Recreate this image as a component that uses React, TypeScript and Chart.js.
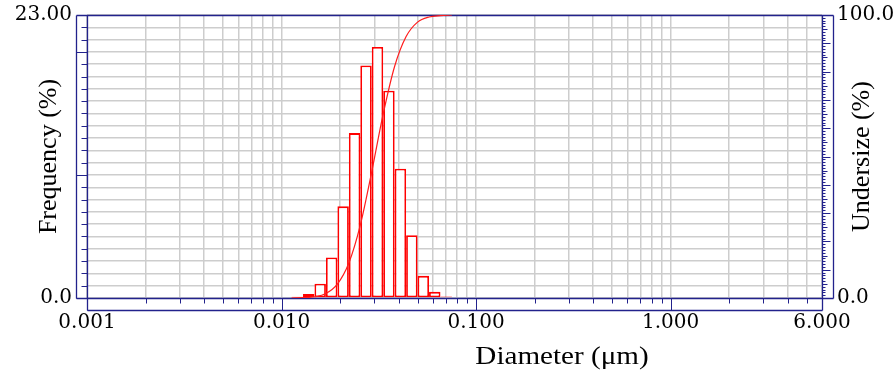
import React, { useEffect, useRef } from 'react';
import { Chart, registerables } from 'chart.js';

Chart.register(...registerables);

// Histogram bins (geometric bin centres, µm) and frequency (%)
const binCenters = [0.01205, 0.0138, 0.0158, 0.0181, 0.02073, 0.02374, 0.02718, 0.03113, 0.03565, 0.04083, 0.04675, 0.05354, 0.06132, 0.07022];
const frequency = [0.1, 0.33, 1.16, 3.3, 7.45, 13.4, 18.9, 20.4, 16.85, 10.5, 5.1, 1.8, 0.5, 0.13];

// Cumulative undersize curve (%), at bin edges (µm)
const binEdges = [0.01126, 0.0129, 0.01477, 0.01691, 0.01937, 0.02218, 0.0254, 0.02909, 0.03331, 0.03815, 0.04369, 0.05003, 0.0573, 0.06562, 0.07515];
const undersize = [0, 0.1, 0.43, 1.59, 4.89, 12.34, 25.74, 44.64, 65.04, 81.89, 92.39, 97.49, 99.29, 99.79, 100];

// Axes
const xLabelTicks = [0.001, 0.01, 0.1, 1, 6];
const xGridMultipliers = [1, 2, 3, 4, 5, 6, 7, 8, 9];
const freqMax = 23;
const undersizeMax = 100;

const NAVY = '#22228c';
const GRID = '#cdcdcd';
const TICK_FONT = { family: 'DejaVu Serif', size: 20 };
const TITLE_FAMILY = '"Liberation Serif", "Times New Roman", serif';

export default function App() {
  const ref = useRef<HTMLCanvasElement>(null);

  useEffect(() => {
    const canvas = ref.current!;
    const gridTicks: number[] = [];
    for (let e = -3; e <= 0; e++) {
      for (const m of xGridMultipliers) {
        const v = parseFloat((m * Math.pow(10, e)).toPrecision(6));
        if (v <= 6) gridTicks.push(v);
      }
    }
    const isLabel = (v: number) => xLabelTicks.some((t) => Math.abs(t - v) < 1e-9);
    const isDecade = (v: number) => Math.abs(Math.log10(v) - Math.round(Math.log10(v))) < 1e-9;
    const noPad = (s: any) => {
      s.paddingTop = 0;
      s.paddingBottom = 0;
      s.paddingLeft = 0;
      s.paddingRight = 0;
    };

    const framePlugin = {
      id: 'frame',
      beforeDatasetsDraw(chart: any) {
        const { ctx, chartArea: a, scales } = chart;
        const c = (v: number) => Math.round(v) + 0.5;
        const L = a.left, R = a.right, T = a.top, B = a.bottom;
        const side = 11, bot = 12;
        ctx.save();
        ctx.strokeStyle = NAVY;
        ctx.lineWidth = 1.3;
        const line = (x1: number, y1: number, x2: number, y2: number) => {
          ctx.beginPath();
          ctx.moveTo(x1, y1);
          ctx.lineTo(x2, y2);
          ctx.stroke();
        };
        // outer frame
        line(c(L - side), c(T), c(R + side), c(T));
        line(c(L - side), c(B), c(R + side), c(B));
        line(c(L - side), c(T), c(L - side), c(B));
        line(c(L), c(T), c(L), c(B + bot));
        line(c(R), c(T), c(R), c(B + bot));
        line(c(R + side), c(T), c(R + side), c(B));
        line(c(L), c(B + bot), c(R), c(B + bot));
        ctx.lineWidth = 1;
        // left axis ticks
        for (let v = 0; v <= freqMax; v++) {
          const py = c(scales.y.getPixelForValue(v));
          line(v % 10 === 0 ? c(L - side) : c(L - 6), py, c(L), py);
        }
        // right axis ticks
        for (let v = 0; v <= undersizeMax; v++) {
          const py = c(scales.y1.getPixelForValue(v));
          const len = v % 10 === 0 ? 8 : v % 5 === 0 ? 5 : 3;
          line(c(R), py, c(R + len), py);
        }
        // bottom axis ticks
        for (const t of scales.x.ticks) {
          const px = c(scales.x.getPixelForValue(t.value));
          line(px, c(B), px, isDecade(t.value) ? c(B + bot) : c(B + 5));
        }
        ctx.restore();
      },
      afterDraw(chart: any) {
        const { ctx, chartArea: a } = chart;
        ctx.save();
        ctx.fillStyle = '#000';
        ctx.font = `26px ${TITLE_FAMILY}`;
        // x-axis title
        ctx.save();
        ctx.translate(562, 364);
        ctx.scale(1.12, 1);
        ctx.textAlign = 'center';
        ctx.textBaseline = 'alphabetic';
        ctx.fillText('Diameter (μm)', 0, 0);
        ctx.restore();
        // right axis title
        ctx.save();
        ctx.translate(862, (a.top + a.bottom) / 2);
        ctx.rotate(-Math.PI / 2);
        ctx.textAlign = 'center';
        ctx.textBaseline = 'middle';
        ctx.fillText('Undersize (%)', 0, 0);
        ctx.restore();
        ctx.restore();
      },
    };

    const chart = new Chart(canvas, {
      type: 'bar',
      data: {
        datasets: [
          {
            type: 'line',
            label: 'Undersize',
            data: binEdges.map((x, i) => ({ x, y: undersize[i] })),
            xAxisID: 'x',
            yAxisID: 'y1',
            borderColor: '#ff1c1c',
            borderWidth: 1.2,
            pointRadius: 0,
            cubicInterpolationMode: 'monotone',
            fill: false,
          } as any,
          {
            type: 'bar',
            label: 'Frequency',
            data: binCenters.map((x, i) => ({ x, y: frequency[i] })),
            xAxisID: 'x',
            yAxisID: 'y',
            backgroundColor: '#ffffff',
            borderColor: '#ff0000',
            borderWidth: 1.8,
            borderSkipped: false,
            barThickness: 11.45,
            inflateAmount: 0,
          } as any,
        ],
      },
      options: {
        responsive: false,
        animation: false,
        layout: { padding: { top: 15, left: 0, right: 0, bottom: 0 } },
        plugins: { legend: { display: false }, tooltip: { enabled: false } },
        scales: {
          x: {
            type: 'logarithmic',
            position: 'bottom',
            min: 0.001,
            max: 6,
            offset: false,
            afterBuildTicks: (s: any) => {
              s.ticks = gridTicks.map((v) => ({ value: v }));
            },
            afterFit: (s: any) => {
              s.height = 73;
              noPad(s);
            },
            grid: { color: GRID, lineWidth: 1.5, drawTicks: false, offset: false },
            border: { display: false },
            ticks: {
              autoSkip: false,
              maxRotation: 0,
              minRotation: 0,
              padding: 13,
              color: '#000',
              font: TICK_FONT,
              callback: (v: any) => (isLabel(Number(v)) ? Number(v).toFixed(3) : ''),
            },
          },
          y: {
            type: 'linear',
            position: 'left',
            min: 0,
            max: freqMax,
            afterBuildTicks: (s: any) => {
              s.ticks = Array.from({ length: freqMax + 1 }, (_, i) => ({ value: i }));
            },
            afterFit: (s: any) => {
              s.width = 87;
              noPad(s);
            },
            grid: { color: GRID, lineWidth: 1.5, drawTicks: false },
            border: { display: false },
            ticks: {
              autoSkip: false,
              padding: 15,
              color: '#000',
              font: TICK_FONT,
              callback: (v: any) => (v === freqMax ? '23.00' : v === 0 ? '0.0' : ''),
            },
            title: {
              display: true,
              text: 'Frequency (%)',
              color: '#000',
              font: { family: TITLE_FAMILY, size: 26 },
              padding: { top: 34, bottom: 0 },
            },
          },
          y1: {
            type: 'linear',
            position: 'right',
            min: 0,
            max: undersizeMax,
            afterBuildTicks: (s: any) => {
              s.ticks = [{ value: 0 }, { value: undersizeMax }];
            },
            afterFit: (s: any) => {
              s.width = 74;
              noPad(s);
            },
            grid: { display: false, drawTicks: false },
            border: { display: false },
            ticks: {
              autoSkip: false,
              padding: 15,
              color: '#000',
              font: TICK_FONT,
              callback: (v: any) => Number(v).toFixed(1),
            },
          },
        },
      } as any,
      plugins: [framePlugin],
    });
    return () => chart.destroy();
  }, []);

  return (
    <div style={{ position: 'fixed', left: 0, top: 0, width: 896, height: 371, background: '#fff' }}>
      <canvas ref={ref} width={896} height={371} style={{ display: 'block', width: 896, height: 371 }} />
    </div>
  );
}
